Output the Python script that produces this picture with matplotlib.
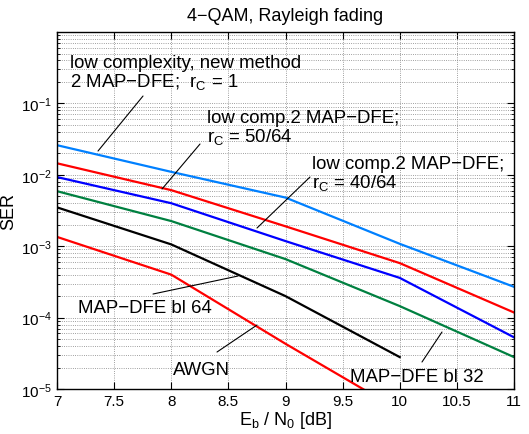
import numpy as np
import matplotlib
matplotlib.use("Agg")
import matplotlib.pyplot as plt
from matplotlib.ticker import LogLocator

plt.rcParams['font.family'] = ['Liberation Sans', 'DejaVu Sans']
plt.rcParams['mathtext.fontset'] = 'custom'
plt.rcParams['mathtext.rm'] = 'Liberation Sans'
plt.rcParams['mathtext.it'] = 'Liberation Sans'
plt.rcParams['mathtext.default'] = 'regular'

# ---- data ----
ebn0 = [7, 8, 9, 10, 11]
ser_rc1 = [0.026, 0.011, 0.0048, 0.00108, 2.7e-4]
ser_rc50 = [0.0145, 0.0061, 0.0019, 5.8e-4, 1.18e-4]
ser_rc40 = [0.0093, 0.0040, 0.00118, 3.6e-4, 5.3e-5]
ser_bl32 = [0.0059, 0.00225, 6.6e-4, 1.45e-4, 2.8e-5]
ebn0_bl64 = [7, 8, 9, 10]
ser_bl64 = [0.0035, 0.00106, 2.0e-4, 2.8e-5]
ebn0_awgn = [7, 8, 9, 10]
ser_awgn = [1.35e-3, 4.0e-4, 4.3e-5, 5e-6]

xticks = [7, 7.5, 8, 8.5, 9, 9.5, 10, 10.5, 11]
xticklabels = ['7', '7.5', '8', '8.5', '9', '9.5', '10', '10.5', '11']
yticks = [1e-5, 1e-4, 1e-3, 1e-2, 1e-1]

fig = plt.figure(figsize=(5.29, 4.35), dpi=100)
ax = fig.add_axes([0.1078, 0.1034, 0.8638, 0.8207])

lw = 1.6
ax.semilogy(ebn0, ser_rc1, color='#0080ff', lw=lw)
ax.semilogy(ebn0, ser_rc50, color='#ff0000', lw=lw)
ax.semilogy(ebn0, ser_rc40, color='#0000ff', lw=lw)
ax.semilogy(ebn0, ser_bl32, color='#008040', lw=lw)
ax.semilogy(ebn0_bl64, ser_bl64, color='black', lw=lw)
ax.semilogy(ebn0_awgn, ser_awgn, color='#ff0000', lw=lw)

ax.set_xlim(7, 11)
ax.set_ylim(1e-5, 1)
ax.set_xticks(xticks)
ax.set_xticklabels(xticklabels)
ax.set_yticks(yticks)
ax.yaxis.set_minor_locator(LogLocator(base=10, subs=np.arange(2, 10)))
ax.tick_params(which='both', direction='in', top=True, right=True, labelsize=11)
ax.tick_params(which='major', length=5)
ax.tick_params(which='minor', length=2.5)
ax.grid(True, which='major', ls=':', color='#808080', lw=0.6)
ax.grid(True, which='minor', axis='y', ls=':', color='#808080', lw=0.6)
for s in ax.spines.values():
    s.set_linewidth(1.0)

ax.set_title('4\u2212QAM, Rayleigh fading', fontsize=13, pad=9)
ax.set_xlabel('E$_b$ / N$_0$ [dB]', fontsize=13, labelpad=1)
ax.set_ylabel('SER', fontsize=13)
ax.yaxis.set_label_coords(-0.088, 0.5)


# annotations placed in pixel-like axes fractions of the reference
def fr(px, py):
    return ((px - 57) / 457.0, (390 - py) / 357.0)


texts = [
    ('low complexity, new method', 70, 68),
    ('2 MAP\u2212DFE;  $r_C$ = 1', 70, 87),
    ('low comp.2 MAP\u2212DFE;', 207, 123),
    ('$r_C$ = 50/64', 207, 142),
    ('low comp.2 MAP\u2212DFE;', 312, 169),
    ('$r_C$ = 40/64', 312, 188),
    ('MAP\u2212DFE bl 64', 78, 313),
    ('AWGN', 173, 375),
    ('MAP\u2212DFE bl 32', 350, 382),
]
for s, px, py in texts:
    ax.text(*fr(px, py), s, transform=ax.transAxes, fontsize=13.4,
            ha='left', va='baseline')

leaders = [
    ((143, 97), (98, 152)),
    ((200, 145), (162, 190)),
    ((310, 178), (257, 229)),
    ((153, 295), (238, 277)),
    ((217, 353), (257, 326)),
    ((422, 363), (442, 333)),
]
for a, b in leaders:
    ax.annotate('', xy=fr(*b), xytext=fr(*a), xycoords='axes fraction',
                textcoords='axes fraction',
                arrowprops=dict(arrowstyle='-', lw=0.8, color='black',
                                shrinkA=0, shrinkB=0))

fig.savefig('out.png', dpi=100)
